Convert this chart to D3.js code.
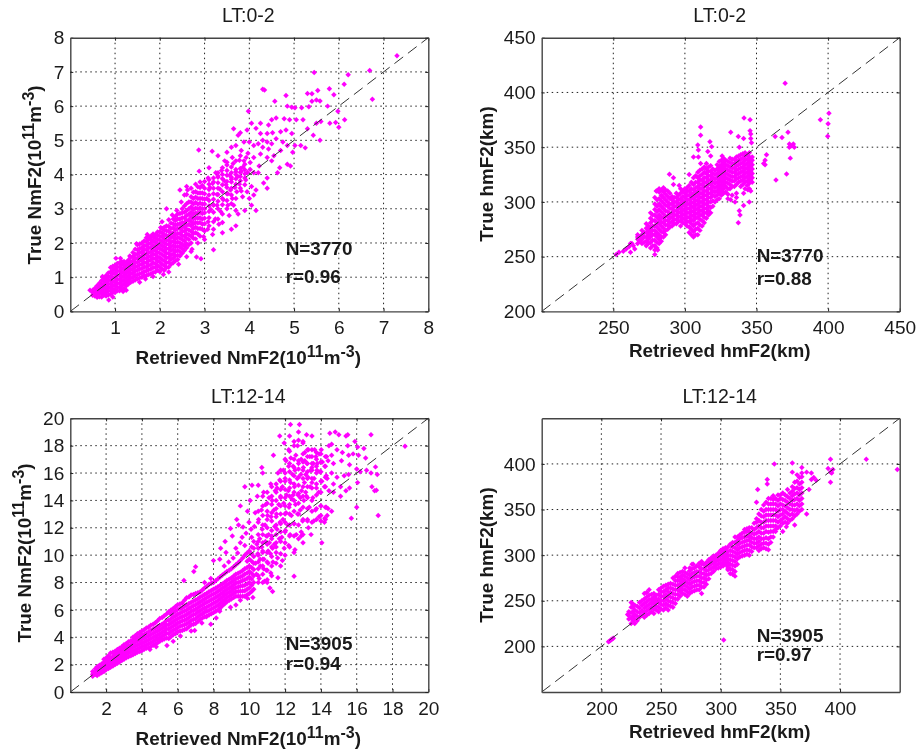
<!DOCTYPE html>
<html><head><meta charset="utf-8">
<script src="https://cdnjs.cloudflare.com/ajax/libs/d3/7.8.5/d3.min.js"></script>
<style>html,body{margin:0;background:#fff}svg{display:block;filter:blur(.35px)}text{font-family:"Liberation Sans",Arial,sans-serif;fill:#1a1a1a}</style>
</head><body><svg id="c" width="917" height="751"></svg>
<script>
// Columns: [retrieved, true, true, ...]. Pairs: [retrieved, true].
const nightNmColumns=[
[.5,.47,.55,.62],[.6,.41,.5,.58,.66,.75],[.7,.42,.52,.6,.7,.8,.9],[.8,.45,.55,.64,.74,.85,.95,1.05],
[.9,.5,.6,.7,.8,.92,1.03,1.15,1.28],[1,.55,.65,.76,.88,1,1.12,1.24,1.35],[1.1,.6,.7,.82,.94,1.06,1.18,1.3,1.42],
[1.2,.68,.8,.92,1.04,1.16,1.28,1.38,1.46],[1.3,.8,.92,1.03,1.15,1.27,1.39,1.5],[1.4,.88,1,1.12,1.24,1.36,1.48,1.6,1.72],
[1.5,.95,1.07,1.2,1.32,1.44,1.56,1.68,1.8,1.95],[1.6,1,1.12,1.25,1.38,1.5,1.62,1.74,1.86,2],
[1.7,1.05,1.18,1.3,1.42,1.55,1.67,1.8,1.92,2.05,2.15],[1.8,1.1,1.24,1.36,1.5,1.62,1.74,1.87,2,2.1,2.2],
[1.9,1.15,1.28,1.4,1.54,1.66,1.78,1.9,2.02,2.14,2.25],[2,1.16,1.3,1.44,1.57,1.7,1.83,1.95,2.08,2.2,2.33],
[2.1,1.2,1.34,1.48,1.62,1.76,1.88,2,2.12,2.25,2.38,2.46],[2.2,1.3,1.44,1.58,1.7,1.84,1.96,2.08,2.2,2.34,2.48,2.68],
[2.3,1.42,1.56,1.68,1.8,1.92,2.05,2.18,2.3,2.44,2.56,2.7],[2.4,1.52,1.64,1.78,1.9,2.03,2.16,2.28,2.42,2.55,2.7,2.85],
[2.5,1.7,1.84,1.96,2.1,2.22,2.35,2.48,2.6,2.74,2.88,3],[2.6,1.86,1.98,2.14,2.26,2.4,2.52,2.66,2.8,2.95,3.15,3.42],
[2.7,2,2.2,2.34,2.5,2.62,2.76,2.9,3.05,3.2,3.35,3.6],[2.8,2.12,2.3,2.46,2.6,2.74,2.88,3.02,3.18,3.34,3.5,3.72],
[2.9,2.2,2.42,2.6,2.74,2.9,3.02,3.16,3.3,3.46,3.62,3.78],[3,2.35,2.56,2.72,2.88,3,3.14,3.28,3.44,3.6,3.8],
[3.1,2.5,2.74,2.92,3.08,3.24,3.4,3.56,3.72,3.85],[3.2,2.62,2.9,3.1,3.28,3.44,3.6,3.78,3.9],
[3.3,2.7,3,3.22,3.42,3.6,3.76,3.92,4.05],[3.4,2.85,3.12,3.3,3.5,3.7,3.88,4,4.2],
[3.5,3,3.24,3.44,3.62,3.8,3.98,4.12,4.36],[3.6,3.15,3.4,3.6,3.78,3.92,4.05,4.22],[3.7,2.95,3.3,3.72,3.88,4,4.15,4.4],
[3.8,3.6,3.82,3.94,4.06,4.18,4.55],[3.9,3.7,3.9,4.02,4.14,4.3]];
const nightNmFill=[
[.55,.45,.52,.6,.68],[.65,.43,.54,.63,.72,.82],[.75,.47,.57,.67,.77,.88,.98],[.85,.48,.6,.7,.8,.9,1,1.12],
[.95,.55,.65,.75,.86,.98,1.1,1.2,1.32],[1.05,.6,.71,.82,.94,1.06,1.18,1.3,1.4],[1.15,.65,.76,.88,1,1.12,1.24,1.36,1.46],
[1.25,.75,.86,.98,1.1,1.22,1.33,1.44],[1.35,.85,.97,1.09,1.21,1.33,1.45,1.58],[1.45,.92,1.05,1.17,1.3,1.42,1.54,1.66,1.82],
[1.55,.98,1.1,1.24,1.36,1.48,1.6,1.72,1.84,1.97],[1.65,1.04,1.16,1.3,1.43,1.56,1.68,1.8,1.92,2.06],
[1.75,1.08,1.22,1.35,1.48,1.6,1.72,1.85,1.98,2.1,2.18],[1.85,1.14,1.28,1.42,1.55,1.68,1.8,1.93,2.06,2.18,2.26],
[1.95,1.2,1.34,1.48,1.6,1.73,1.86,1.98,2.1,2.22,2.32],[2.05,1.24,1.38,1.52,1.66,1.8,1.92,2.05,2.18,2.3,2.42],
[2.15,1.28,1.42,1.56,1.7,1.83,1.96,2.08,2.22,2.36,2.5],[2.25,1.38,1.52,1.65,1.78,1.9,2.02,2.15,2.28,2.42,2.58],
[2.35,1.48,1.62,1.75,1.88,2,2.12,2.25,2.38,2.52,2.66,2.78],[2.45,1.62,1.75,1.88,2,2.14,2.28,2.42,2.56,2.7,2.86],
[2.55,1.78,1.92,2.06,2.2,2.34,2.46,2.6,2.74,2.9,3.08],[2.65,1.95,2.1,2.24,2.38,2.54,2.68,2.84,3,3.2],
[2.75,2.14,2.28,2.42,2.56,2.7,2.84,2.98,3.14,3.3,3.48],[2.85,2.26,2.42,2.58,2.72,2.86,3,3.14,3.3,3.46,3.64],
[2.95,2.4,2.55,2.7,2.86,3,3.14,3.3,3.46,3.68]];
const nightNmPairs=[[7.3,7.47],[6.69,7.04],[5.45,6.98],[6.21,6.92],[6.75,6.2],[6.12,6.64],[4.34,6.47],[4.3,6.49],[5.79,6.51],[5.53,6.46],[5.3,6.37],[5.4,6.36],[5.89,6.33],[5.5,6.18],[5.4,6.14],[5.58,6.15],[4.82,6.31],[4.57,6.14],[4.85,6],[4.95,5.97],[5.02,5.95],[5.17,5.95],[5.33,5.98],[5.75,6],[5.98,5.85],[6.0,5.38],[6.13,5.6],[5.93,5.52],[5.8,5.5],[5.5,5.5],[5.6,5.55],[5.58,5.0],[5.43,5.15],[5.3,5.34],[5.2,5.6],[5.05,5.6],[4.9,5.6],[4.78,5.63],[4.6,5.65],[4.5,5.6],[4.43,5.45],[4.25,5.5],[3.98,5.85],[4.05,5.5],[3.95,5.3],[3.8,5.22],[3.65,5.34],[3.75,5.15],[4.15,5.35],[4.25,5.2],[4.4,5.2],[4.52,5.22],[4.7,5.25],[4.82,5.3],[4.95,5.2],[4.3,5],[4.4,4.95],[4.5,4.9],[4.3,4.8],[4.43,4.75],[4.2,4.9],[4.1,4.85],[4,4.95],[3.88,4.95],[3.7,4.85],[3.6,4.8],[3.5,4.65],[4.6,5.05],[4.75,4.95],[4.85,4.85],[5.02,4.85],[5.15,4.85],[5.25,4.78],[4.97,4.65],[4.7,4.7],[4.55,4.55],[4.4,4.5],[4.25,4.6],[4.1,4.5],[4.02,4.35],[4.22,4.25],[4.5,4.4],[4.68,4.2],[4.85,4.3],[4.92,4.25],[4.63,4.05],[4.4,3.9],[4.4,3.6],[4.15,3.55],[4.05,3.65],[4.1,3.4],[4,3.3],[4.05,3.1],[4.15,2.95],[3.9,2.95],[3.75,2.85],[3.7,2.5],[3.6,2.4],[3.4,2.3],[3.2,1.8],[2.92,1.54],[2.82,1.59],[2.87,4.72],[2.88,4.1],[3.17,4.68],[3.3,4.55],[3.45,4.4],[2.45,3.55],[2.55,3.4],[2.6,3.65],[2.05,2.62],[2.15,3],[.86,.33],[.44,.62],[1.02,1.55],[3.1,4.2],[3.25,4.05],[3.95,3.5],[3.85,3.35],[3.65,3.1],[3.4,2.6],[3.2,2.4],[3,2.1],[2.72,1.82],[3.55,2.8],[4.2,4.05],[4.32,3.75],[3.93,4.5],[3.78,4.42],[3.62,4.5],[3.82,4.7],[3.97,4.62],[3.72,3.5],[3.52,3.1],[3.32,2.55],[3.18,2.25],[3.07,2.4],
[3.08,2.62],[3.14,2.98],[3.05,3.3],[3.12,3.62],[3.08,3.9],[3.24,2.7],[3.2,3.12],[3.28,3.42],[3.18,3.74],[3.3,3.96],[3.36,2.92],[3.42,3.26],[3.34,3.58],[3.44,3.82],[3.38,4.12],[3.52,3.44],[3.48,3.7],[3.56,3.98],[3.5,4.28],[3.62,3.3],[3.68,3.62],[3.6,3.86],[3.7,4.08],[3.64,4.32],[3.78,3.72],[3.74,3.94],[3.82,4.1],[3.86,4.22],[3.92,3.84],[3.96,4.06],[3.88,4.4],[3.82,3.52],[4.02,4.15],[4.1,4.05],[3.58,3.55],[3.28,3.1],
[1.12,1.55],[1.33,1.62],[1.48,1.98],[1.72,2.25],[2.02,2.45],[2.28,2.82],[2.38,2.95],[.95,.42],[1.25,.62],[1.55,.85],[1.85,1.02],[2.2,1.15],[2.42,1.38],[2.6,1.6],[2.7,1.75],[2.85,2],[2.98,2.18],[2.62,3.55],[2.48,3.2],[.72,1.02],[1.18,.58],[1.68,.95],[2.08,1.08]];

const nightHmColumns=[
[267,262,266,270],[270,262,266,270,274],[273,260,264,268,272,276,280],[276,258,263,268,272,276,281,285,290],
[279,256,260,265,270,274,278,283,288,293,298,304],[282,262,266,270,275,280,284,288,293,298,303,309,312],
[285,268,272,276,281,285,289,294,299,304,309,313],[288,275,279,283,287,291,296,300,305,310],
[291,278,282,286,290,294,298,302,305],[294,280,284,288,292,296,300,304,308],
[297,278,283,287,291,295,299,303,308,312],[300,280,284,288,292,296,300,304,308,312],
[303,272,277,282,286,290,294,298,302,306,310,315],[306,268,273,278,283,287,291,295,299,303,307,311,316,322],
[309,270,276,281,286,290,294,298,302,306,310,314,318,322,327],[312,278,283,288,292,296,300,304,308,312,316,320,325,330],
[315,285,290,294,298,302,306,310,314,318,322,326,330,335],[318,290,295,300,304,308,312,316,320,324,328,333],
[321,300,305,309,313,317,321,325,329],[324,303,308,312,316,320,324,328,332,337],
[327,308,312,316,320,324,328,332,336,340],[330,307,312,317,321,325,329,333,337],
[333,306,314,319,323,327,331,335,339],[336,308,316,321,325,329,333,337,341],
[339,314,319,323,327,331,335,339,343],[342,312,318,322,326,330,334,338,342,345],
[345,312,317,321,325,329,333,337,341,345],[347,318,322,326,330,334,338,341]];
const nightHmFill=[
[268.5,264,268],[271.5,263,268,272],[274.5,262,266,270,274,278],[277.5,260,265,270,274,278,283,288],
[280.5,258,263,268,272,277,281,286,291,296,302,310],[283.5,264,268,273,278,282,286,291,296,301,306,311],
[286.5,270,274,279,283,287,292,297,302,307,311],[289.5,277,281,285,289,294,298,303,308],[292.5,280,284,288,292,296,300,304],
[295.5,282,286,290,294,298,302,306],[298.5,281,285,289,293,297,301,305,310],[301.5,278,282,286,290,294,298,302,306,310,313],
[304.5,270,275,280,284,288,292,296,300,304,308,312,318],[307.5,270,275,280,285,289,293,297,301,305,309,313,318,324],
[310.5,274,279,284,288,292,296,300,304,308,312,316,320,324,329],[313.5,281,286,290,294,298,302,306,310,314,318,322,327,332],
[316.5,288,292,296,300,304,308,312,316,320,324,328,332],[319.5,296,301,306,310,314,318,322,326,330],
[322.5,302,306,310,314,318,322,326,330,334],[325.5,306,310,314,318,322,326,330,334,338],[328.5,309,314,318,322,326,330,334,338],
[331.5,312,316,320,324,328,332,336,340],[334.5,314,319,323,327,331,335,339],[337.5,318,322,326,330,334,338,342],
[340.5,316,320,324,328,332,336,340,344],[343.5,315,319,323,327,331,335,339,343],[346,320,324,328,332,336,340]];
const nightHmPairs=[[252,252],[254,254],[257,255],[259,257],[261,259],[262,254],[264,260],[265,257],[263,262],[370,408.3],[311,368.5],[311,361],[309,352],[341.3,376.7],[345.5,375],[332,363.6],[337.3,359.7],[341,358],[345.5,365],[346,362],[346,358],[346.5,354],[317.5,355],[318.7,350.5],[338,350],[309.4,347.5],[306,341],[309.4,341],[289.2,325.3],[394.6,375],[400.6,381],[400,371.5],[399.7,360],[372,363.6],[363,359.7],[367.8,358.8],[373,353],[375.7,353],[372.9,350],[376.4,350],[374,351],[373.6,340],[371,325.6],[363.6,320],[357,343],[356,338],[356,334],[355,335],[337.3,281],[338.5,288],[341,296.7],[338,292],[332,302],[335,300],[318,342],[316,346],[326,342],[311,335],[303,325],[296,315],[292,322],[292,316],[280,310],[284,305],[267,268],[262,262],[345,300],[344,311],[281,256],[279,252],[330,303],[336,304],[341,308],[346,310]];

const dayNmColumns=[
[1.25,1.15,1.3,1.5],[1.5,1.2,1.42,1.6,1.85],[1.75,1.4,1.6,1.82,2.05],[2,1.62,1.84,2.05,2.28,2.48],[2.25,1.8,2,2.25,2.48,2.85],
[2.5,2,2.24,2.5,2.72,2.98],[2.75,2.2,2.44,2.7,2.95,3.2],[3,2.4,2.65,2.9,3.18,3.45],[3.25,2.58,2.84,3.1,3.38,3.68],
[3.5,2.72,3,3.28,3.54,3.8,4],[3.75,2.9,3.16,3.42,3.7,3.98,4.25],[4,3.02,3.3,3.58,3.86,4.14,4.45],[4.25,3.2,3.46,3.74,4.02,4.3,4.68],
[4.5,3.32,3.6,3.9,4.2,4.5,4.88],[4.75,3.5,3.78,4.06,4.36,4.66,5.06],[5,3.7,3.98,4.26,4.56,4.86,5.38],[5.25,3.88,4.16,4.46,4.76,5.06,5.58],
[5.5,3.9,4.25,4.6,4.92,5.24,5.86],[5.75,4.18,4.5,4.82,5.14,5.46,5.8,6.1],[6,4.4,4.72,5.04,5.36,5.68,6.02,6.38],[6.25,4.5,4.85,5.18,5.5,5.82,6.16,6.5],
[6.5,4.62,4.98,5.32,5.66,6,6.34,6.88],[6.75,4.9,5.22,5.56,5.88,6.2,6.54,7.08],[7,5,5.35,5.7,6.04,6.38,6.72,7.2],[7.25,5.3,5.62,5.94,6.26,6.58,6.92,7.3],
[7.5,5.5,5.82,6.14,6.46,6.78,7.12,7.6],[7.75,5.62,5.96,6.3,6.64,6.98,7.32,7.88],[8,5.8,6.14,6.48,6.82,7.16,7.5,8],[8.25,6,6.34,6.68,7.02,7.36,7.7,8.28],
[8.5,6.3,6.62,6.94,7.26,7.58,7.9,8.55],[8.75,6.6,6.9,7.2,7.5,7.82,8.14,8.8],[9,6.8,7.1,7.4,7.7,8.02,8.34,9],[9.25,7,7.32,7.64,7.96,8.28,8.6,9.3],
[9.5,7,7.36,7.72,8.06,8.4,8.76,9.6],[9.75,7,7.4,7.8,8.2,8.6,9,10],[10,7.2,7.6,8,8.4,8.8,9.2,9.7,10.3],[10.25,7.5,8,8.5,8.95,9.4,9.9,10.5,11],
[10.5,8,8.5,9,9.5,10,10.5,11,11.5,12.4,13.2],[10.75,8,8.6,9.2,9.7,10.3,10.9,11.5,12.2,12.9,13.6,14.3],[11,8.2,8.9,9.5,10.2,10.8,11.4,12,12.6,13.2,13.8,14.6],
[11.25,8.5,9.2,9.9,10.6,11.2,11.8,12.5,13.1,13.7,14.3,15],[11.5,9.4,10.2,10.9,11.5,12.2,12.8,13.4,14,14.6,15.2],[11.75,9.2,10.1,11,11.7,12.3,13,13.6,14.2,14.8,15.4,16.2],
[12,10,10.9,11.7,12.4,13,13.6,14.2,14.8,15.4,16,17],[12.25,10.6,11.4,12.2,13,13.7,14.3,14.9,15.5,16.1,16.7,17.6],[12.5,10.2,11.4,12.3,13.2,14,14.6,15.2,15.8,16.4,17,18],
[12.75,11.2,12.2,13,13.8,14.5,15.1,15.7,16.3,16.9,18.4],[13,11.5,12.6,13.5,14.3,15,15.6,16.2,16.8,17.4,18.3],[13.25,12.5,13.4,14.2,15,15.6,16.1,16.7,17.2,17.7],
[13.5,12.4,13.2,14,14.9,15.6,16.2,16.7,17.2,17.7],[13.75,12.6,13.4,14.4,15.2,16,16.5,17,17.5],[14,12.9,13.6,14.6,15.4,16.1,16.8,17.4],
[14.25,12.6,13.5,15,15.7,16.5,17.2]];
const dayNmFill=[
[1.4,1.3,1.5,1.7],[1.63,1.32,1.52,1.75,1.95],[1.88,1.5,1.72,1.95,2.18,2.4],[2.13,1.72,1.95,2.15,2.38,2.65],[2.38,1.9,2.12,2.38,2.6,2.9],
[2.63,2.1,2.34,2.6,2.84,3.1],[2.88,2.3,2.55,2.8,3.06,3.3],[3.13,2.5,2.75,3,3.28,3.55],[3.38,2.65,2.92,3.2,3.46,3.75],
[3.63,2.82,3.08,3.36,3.62,3.9,4.12],[3.88,2.96,3.24,3.5,3.78,4.06,4.35],[4.13,3.12,3.38,3.66,3.94,4.22,4.55],[4.38,3.26,3.54,3.82,4.1,4.4,4.75],
[4.63,3.42,3.7,3.98,4.28,4.58,4.95],[4.88,3.6,3.88,4.16,4.46,4.76,5.2],[5.13,3.8,4.08,4.36,4.66,4.96,5.45],[5.38,3.95,4.3,4.6,4.9,5.22,5.7],
[5.63,4.05,4.4,4.72,5.04,5.36,5.68,6],[5.88,4.28,4.6,4.94,5.26,5.58,5.92,6.25],[6.13,4.45,4.8,5.12,5.44,5.76,6.1,6.44],[6.38,4.56,4.92,5.25,5.58,5.92,6.26,6.7],
[6.63,4.76,5.1,5.44,5.78,6.12,6.46,6.95],[6.88,4.95,5.3,5.64,5.96,6.3,6.64,7.12],[7.13,5.15,5.5,5.84,6.16,6.48,6.82,7.25],[7.38,5.4,5.72,6.04,6.36,6.68,7.02,7.45],
[7.63,5.55,5.9,6.22,6.56,6.9,7.22,7.72],[7.88,5.72,6.06,6.4,6.74,7.08,7.42,7.95],[8.13,5.9,6.24,6.58,6.92,7.26,7.6,8.15],[8.38,6.15,6.48,6.82,7.14,7.48,7.8,8.42],
[8.63,6.45,6.76,7.08,7.38,7.7,8.02,8.68],[8.88,6.7,7,7.3,7.6,7.92,8.24,8.9],[9.13,6.9,7.22,7.52,7.84,8.16,8.48,9.15],[9.38,7,7.34,7.68,8,8.34,8.68,9.45],
[9.63,7,7.38,7.76,8.14,8.5,8.88,9.8],[9.88,7.1,7.5,7.9,8.3,8.7,9.1,9.55,10.15],[10.13,7.35,7.8,8.25,8.68,9.1,9.55,10.1,10.6,11.3]];
const dayNmPairs=[[12.3,19.55],[12.8,19.55],[12.75,19],[12.25,18.7],[11.7,18.7],[11.95,18.2],[12.5,18.3],[13.2,18.8],[13.5,18.7],[14.5,18.9],[14.8,19],[15,18.8],[15.4,18.7],[15.5,18.8],[15.9,18.3],[15.5,18],[16.8,18.8],[18.7,17.95],[16.05,17.9],[16.4,17.8],[14.6,18.1],[14.45,18],[14.9,17.7],[15.2,17.5],[15.55,17.3],[15.8,17.4],[16.1,17.3],[16.5,17.1],[14.6,17.3],[14.4,16.9],[14.7,16.7],[15.15,16.9],[15.6,16.6],[16,16.3],[16.2,16.1],[16.55,16.2],[16.8,16],[17.05,16.45],[17.15,15.9],[14.6,16],[14.9,15.7],[15.3,15.8],[15.55,15.9],[16.05,15.3],[14.35,15.6],[14.7,15.2],[15.1,15],[15.4,14.7],[15.6,14.9],[15.1,14.3],[14.7,14.6],[14.45,14.7],[16.85,15],[17,14.7],[17.1,14.75],[16,13.5],[15.7,12.7],[17.2,12.9],[14.4,13.4],[14.6,13.2],[14.35,12.9],[14.2,12.4],[14,12.5],[14.05,10.9],[13.45,11.5],[13.3,12],[13,10.9],[12.5,8.45],[12.9,11.7],[11.35,17.3],[10.7,16.4],[10.75,16],[10.5,15.1],[9.75,15],[10.15,15.1],[10.45,14.3],[10.05,14],[9.5,13.6],[9.9,13.2],[9.3,12.6],[9.4,12.2],[9.65,12.05],[8.95,11.95],[9.05,11.4],[9.6,11.3],[8.4,10.5],[8.65,11],[8.7,10.2],[9.25,10.5],[9.75,10.7],[8,9.6],[7,9.15],[6.9,8.8],[6.35,8.15],[8.35,9.7],[8.6,9.2],[8.85,9.5],[9.1,9.8],[7.5,8],[7.85,8.3],[11.3,7.35],[11.15,7.6],[11,8],[11.6,8.35],[10.2,6.9],[9.9,6.85],[9.5,6.7],[8.95,6.2],[9.25,6.35],[8.35,5.9],[8.15,5.4],[7.6,5.5],[7.85,4.95],[7.35,5.05],[6.95,4.5],[6.75,4.45],[6.15,4.1],[5.75,3.7],[5.4,3.4],[5.05,3.9],[4.8,3.3],[4.45,3.1],[9.98,12.4],[10.28,12.1],[9.82,11.6],[10.33,13.1],[10.1,11.9],[9.5,10.9],[9.35,10.15],
[10.55,8.3],[10.62,9.2],[10.48,10.1],[10.7,10.6],[10.58,11.2],[10.72,11.9],[10.52,12.6],[10.68,13.3],[10.85,8.1],[10.95,8.9],[10.82,9.7],[11.05,10.3],[10.9,11],[11.08,11.5],[10.88,12.2],[11.02,12.9],[10.92,13.7],[11.1,14.2],[10.8,14.6],[11.2,8.7],[11.32,9.5],[11.18,10.1],[11.4,10.8],[11.25,11.4],[11.42,12.1],[11.22,12.8],[11.38,13.3],[11.28,14],[11.45,14.7],[11.2,15.2],[11.58,9.8],[11.5,10.6],[11.68,11.2],[11.55,11.9],[11.72,12.4],[11.52,13],[11.65,13.7],[11.75,14.3],[11.55,14.9],[11.7,15.5],[11.6,16],[11.85,9.6],[11.95,10.5],[11.82,11.3],[12.02,11.8],[11.88,12.6],[12.05,13.1],[11.92,13.8],[12.08,14.4],[11.85,15],[12,15.6],[11.9,16.2],[12.05,16.9],[12.2,10.7],[12.28,11.5],[12.15,12.2],[12.35,12.9],[12.22,13.5],[12.38,14.1],[12.18,14.7],[12.3,15.3],[12.42,15.9],[12.2,16.5],[12.32,17.1],[12.2,17.7],[12.55,10.4],[12.62,11.5],[12.5,12.3],[12.7,13],[12.58,13.7],[12.72,14.4],[12.52,15],[12.68,15.6],[12.55,16.2],[12.75,16.7],[12.6,17.3],[12.7,18],[12.9,11.4],[12.98,12.5],[12.85,13.3],[13.05,14],[12.92,14.7],[13.08,15.3],[12.88,15.9],[13.02,16.4],[12.9,17],[13.1,17.5],[13,18.2],[13.25,12.6],[13.35,13.5],[13.2,14.3],[13.4,15],[13.28,15.7],[13.42,16.2],[13.22,16.7],[13.38,17.2],[13.3,17.7],[13.6,12.5],[13.7,13.3],[13.55,14.2],[13.75,14.9],[13.62,15.6],[13.78,16.2],[13.58,16.7],[13.72,17.2],[13.65,17.7],[13.9,12.8],[14,13.6],[13.88,14.6],[14.05,15.4],[13.95,16.1],[14.08,16.8],[13.9,17.4],[14.02,17.7],[14.22,12.7],[14.3,13.5],[14.2,15],[14.3,15.8],[14.22,16.5],[14.32,17.2],[12.45,14.4],[12.85,14.2],[13.15,14.6],[13.5,15.3],[13.15,15.9],[13.5,16.4],[13.8,16.7],[13.1,16.9],[12.45,16.5],[10.35,9.4],[10.6,9.7],[10.8,9],[11.05,9.4],[11.3,10.5],[10.4,8.6],[10.75,10.2],[11.12,10.9],[10.42,10.8],[10.95,11.4]];

const dayHmColumns=[
[225,225,231,237,243,248],[228,225,230,235,240,245],[232,232,237,242,248],[236,232,237,242,247,252,258],[240,236,241,246,251,256,262],
[244,236,241,246,250,254,258],[248,238,243,248,252,257,262],[252,240,245,250,255,260,266],[256,240,245,250,255,260,264,268],
[260,243,248,253,258,263,268,275],[264,252,257,262,267,272,276,280],[268,258,262,266,270,274,278,282],[272,255,260,265,270,275,280],
[276,260,265,270,275,280,285,290],[280,262,267,272,277,282,288],[284,258,265,270,275,280,285,290,293],[288,268,273,278,283,288,292],
[292,280,285,290,294,297],[296,285,289,293,297,300],[300,287,291,295,299,303,305],[304,290,294,298,302,306,308],[308,280,285,290,295,300,305,312],
[312,277,282,288,293,298,303,308,314,320],[316,298,303,308,313,318,322],[320,300,305,310,315,320,325,328],[324,300,305,311,316,321,326,330],
[328,308,313,318,323,328,335],[332,305,310,315,320,326,332,338,345],[336,308,313,318,324,330,336,342,348,355],[340,306,312,318,325,332,338,344,350,356,362],
[344,320,326,332,338,344,350,356,361,365],[348,330,336,342,348,354,360,366],[352,335,340,345,350,355,361,368],[356,335,340,346,352,358,364,372],
[360,340,345,350,355,360,365,370,375],[364,345,350,356,362,368,374,381,388],[368,350,356,362,368,374,380,386,390]];
const dayHmFill=[
[223,230,234,238],[226.5,228,233,238,243],[230,228,233,238,244],[234,234,239,245,250],[238,234,239,244,249,254,259],[242,238,243,248,252,257],
[246,240,244,248,252,256],[250,241,246,250,255,260,264],[254,242,247,252,257,262,267],[258,244,249,254,259,264,269],[262,247,252,257,262,267,272,277],
[266,255,260,264,268,272,276,281],[270,257,262,267,272,277,281],[274,258,263,268,273,278,283,286],[278,261,266,271,276,281,286],[282,262,267,272,277,282,287,291],
[286,265,270,275,280,285,290],[290,274,279,284,288,292,295],[294,282,287,291,295,299],[298,286,290,294,298,302],[302,288,292,296,300,304,307],
[306,284,288,292,296,300,304,309],[310,279,284,289,294,299,304,309,314],[314,290,296,301,306,311,316,320],[318,299,304,309,314,319,324],[322,301,306,311,316,321,326,329],
[326,304,309,314,319,324,330],[330,308,313,318,324,330,336,340],[334,307,312,318,324,330,336,343,350],[338,307,313,319,326,332,338,344,350,358],[342,314,320,326,332,338,344,350,356,362],
[346,326,332,338,344,350,356,362],[350,332,338,344,350,356,362,366],[354,336,342,348,354,360,366],[358,338,344,350,356,362,368],[362,343,349,355,361,367,373,380],[366,348,354,360,366,372,378,385]];
const dayHmPairs=[[206,205],[207,206],[208,207],[209,208],[210,209],[222,235],[226,247],[345,400],[360,401],[368,396],[392,405],[422,405],[448,394],[302.5,207],[390,395],[392,391],[394,394],[392,380],[393,390],[376,390],[378,385],[380,382],[372,391],[376,383],[360,391],[339,383],[339,378],[331,372],[330,358],[374,372],[372,345],[362,333],[355,331],[352,326],[346,328],[302,290],[306,286],[324,320],[277,290],[270,286]];

const panels=[
 {cols:[...nightNmColumns,...nightNmFill],pairs:nightNmPairs,dom:[0,8],xT:d3.range(1,9),yT:d3.range(0,9),x0:70.3,y0:37.7,title:"LT:0-2",titleY:22,xl:"nm",xlY:364,ylX:41,ylC:175,N:"N=3770",r:"r=0.96",nY:255,rY:283,left:285.7},
 {cols:[...nightHmColumns,...nightHmFill],pairs:nightHmPairs,dom:[200,450],xT:[250,300,350,400,450],yT:[200,250,300,350,400,450],x0:541.7,y0:37.7,title:"LT:0-2",titleY:22,xl:"hm",xlY:357,ylX:493,ylC:174,N:"N=3770",r:"r=0.88",nY:262,rY:285,left:756.7},
 {cols:[...dayNmColumns,...dayNmFill],pairs:dayNmPairs,dom:[0,20],xT:d3.range(2,21,2),yT:d3.range(0,21,2),x0:70.3,y0:418.3,title:"LT:12-14",titleY:403,xl:"nm",xlY:745,ylX:31,ylC:553,N:"N=3905",r:"r=0.94",nY:650,rY:670,left:285.7},
 {cols:[...dayHmColumns,...dayHmFill],pairs:dayHmPairs,dom:[150,450],xT:[200,250,300,350,400],yT:[200,250,300,350,400],x0:541.7,y0:418.3,title:"LT:12-14",titleY:403,xl:"hm",xlY:738,ylX:493,ylC:555,N:"N=3905",r:"r=0.97",nY:642,rY:661,left:756.7}
];
const W=358,H=273.7,FS=18.9;
const svg=d3.select("#c");
function unitLabel(t,prefix){
  t.append("tspan").text(prefix+"(10");
  t.append("tspan").attr("dy",-7).attr("font-size",16).text("11");
  t.append("tspan").attr("dy",7).text("m");
  t.append("tspan").attr("dy",-7).attr("font-size",16).text("-3");
  t.append("tspan").attr("dy",7).text(")");
}
panels.forEach(p=>{
  const g=svg.append("g").attr("transform",`translate(${p.x0},${p.y0})`);
  const x=d3.scaleLinear().domain(p.dom).range([0,W]);
  const y=d3.scaleLinear().domain(p.dom).range([H,0]);
  // grid
  g.append("g").selectAll("line").data(p.xT.filter(v=>v!==p.dom[1])).join("line")
    .attr("x1",d=>x(d)).attr("x2",d=>x(d)).attr("y1",0).attr("y2",H);
  g.append("g").selectAll("line").data(p.yT.filter(v=>v!==p.dom[0]&&v!==p.dom[1])).join("line")
    .attr("y1",d=>y(d)).attr("y2",d=>y(d)).attr("x1",0).attr("x2",W);
  g.selectAll("line").attr("stroke","#222").attr("stroke-width",1).attr("stroke-dasharray","1.5 3.5");
  // points
  const pts=[];
  p.cols.forEach(c=>c.slice(1).forEach(v=>pts.push([c[0],v])));
  p.pairs.forEach(q=>pts.push(q));
  const sym=d3.symbol().type(d3.symbolSquare).size(15)();
  g.append("g").selectAll("path").data(pts).join("path").attr("d",sym).attr("fill","#ff00ff")
    .attr("transform",d=>`translate(${x(d[0])},${y(d[1])}) rotate(45)`);
  // identity line
  g.append("line").attr("x1",x(p.dom[0])).attr("y1",y(p.dom[0])).attr("x2",x(p.dom[1])).attr("y2",y(p.dom[1]))
    .attr("stroke","#333").attr("stroke-width",1).attr("stroke-dasharray","11 6");
  // axes
  const ax=g.append("g").attr("transform",`translate(0,${H})`).call(d3.axisBottom(x).tickValues(p.xT).tickSizeInner(-3).tickSizeOuter(0).tickPadding(9).tickFormat(d3.format("d")));
  const ay=g.append("g").call(d3.axisLeft(y).tickValues(p.yT).tickSizeInner(-3).tickSizeOuter(0).tickPadding(6).tickFormat(d3.format("d")));
  const at=g.append("g").call(d3.axisTop(x).tickValues(p.xT).tickSizeInner(-3).tickSizeOuter(0).tickFormat(""));
  const ar=g.append("g").attr("transform",`translate(${W},0)`).call(d3.axisRight(y).tickValues(p.yT).tickSizeInner(-3).tickSizeOuter(0).tickFormat(""));
  [ax,ay,at,ar].forEach(a=>{a.selectAll("path").attr("stroke","#444").attr("stroke-width",1.4);a.selectAll("line").attr("stroke","#222");a.selectAll("text").attr("font-size",FS+.2).attr("fill","#1a1a1a").style("font-family",'"Liberation Sans"');});
  // title
  svg.append("text").attr("x",p.x0+W/2-1).attr("y",p.titleY).attr("text-anchor","middle").attr("font-size",19.5).text(p.title);
  // x label
  const xl=svg.append("text").attr("x",p.x0+W/2-1).attr("y",p.xlY).attr("text-anchor","middle").attr("font-size",FS).attr("font-weight","bold");
  if(p.xl==="nm") unitLabel(xl,"Retrieved NmF2"); else xl.text("Retrieved hmF2(km)");
  // y label
  const yl=svg.append("text").attr("transform",`translate(${p.ylX},${p.ylC}) rotate(-90)`).attr("text-anchor","middle").attr("font-size",FS).attr("font-weight","bold");
  if(p.xl==="nm") unitLabel(yl,"True NmF2"); else yl.text("True hmF2(km)");
  // annotations
  svg.append("text").attr("x",p.left).attr("y",p.nY).attr("font-size",FS).attr("font-weight","bold").text(p.N);
  svg.append("text").attr("x",p.left).attr("y",p.rY).attr("font-size",FS).attr("font-weight","bold").text(p.r);
});
</script></body></html>
